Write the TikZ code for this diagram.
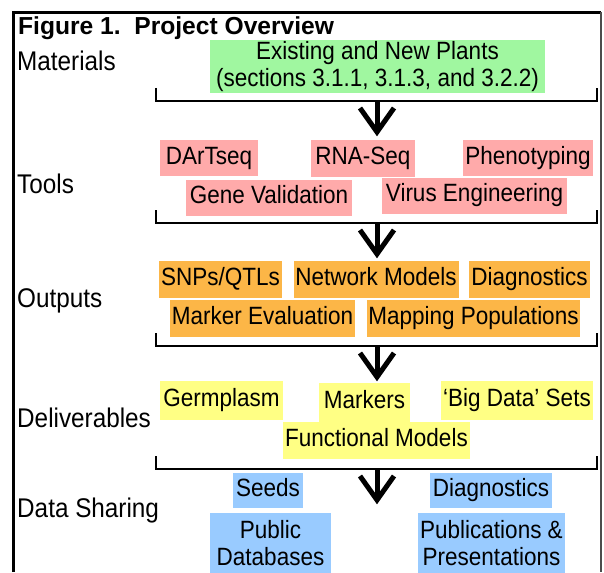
\documentclass[tikz,border=0pt]{standalone}
\usepackage{fontspec}
\setmainfont{Liberation Sans}
\newfontfamily\condfont[FakeStretch=0.9]{Liberation Sans}
\definecolor{gboxc}{HTML}{A0F7A0}
\definecolor{pboxc}{HTML}{FFAAAA}
\definecolor{oboxc}{HTML}{FCB647}
\definecolor{yboxc}{HTML}{FFFF84}
\definecolor{bboxc}{HTML}{99CBFF}
\newcommand\boxfont{\condfont\fontsize{25}{27}\selectfont}
\newcommand\labfont{\condfont\fontsize{27}{30}\selectfont}
\newcommand\titlefont{\fontsize{24.6}{28}\selectfont\bfseries}
\begin{document}
\begin{tikzpicture}[x=1pt,y=-1pt,
  bx/.style={inner sep=0pt, font=\boxfont, text height=18pt, text depth=5.2pt},
  two/.style={inner sep=0pt, font=\boxfont, align=center},
  lab/.style={anchor=base west, inner sep=0pt, font=\labfont},
  brk/.style={line width=2.4pt, line join=miter},
  arr/.style={line width=5pt, line join=miter},
]
\useasboundingbox (0,0) rectangle (604,572);
% frame
\draw[line width=3pt] (13.5,572) -- (13.5,12.5) -- (601,12.5);
\draw[line width=1.2pt, black!70] (601,12.5) -- (601,572);
% title
\node[anchor=base west, inner sep=0pt, font=\titlefont] (title) at (18,35) {Figure 1.\ \ Project Overview};
% labels
\node[lab] (lmat) at (17,71) {Materials};
\node[lab] (ltool) at (17,193) {Tools};
\node[lab] (lout) at (17,307) {Outputs};
\node[lab] (ldel) at (17,427) {Deliverables};
\node[lab] (lshare) at (17,517) {Data Sharing};
% materials
\node[two, fill=gboxc, minimum width=335pt, minimum height=53pt] (plants) at (377.5,66.5) {Existing and New Plants\\(sections 3.1.1, 3.1.3, and 3.2.2)};
% tools
\node[bx, fill=pboxc, minimum width=98pt, minimum height=36pt] (dart) at (209,158) {DArTseq};
\node[bx, fill=pboxc, minimum width=104pt, minimum height=37pt] (rna) at (363,158.5) {RNA-Seq};
\node[bx, fill=pboxc, minimum width=130pt, minimum height=36pt] (pheno) at (528,158) {Phenotyping};
\node[bx, fill=pboxc, minimum width=166pt, minimum height=36pt] (gene) at (269,197.5) {Gene Validation};
\node[bx, fill=pboxc, minimum width=185pt, minimum height=36pt] (virus) at (474.5,195.5) {Virus Engineering};
% outputs
\node[bx, fill=oboxc, minimum width=123pt, minimum height=37pt] (snp) at (220.5,279.5) {SNPs/QTLs};
\node[bx, fill=oboxc, minimum width=165pt, minimum height=37pt] (net) at (376,279.5) {Network Models};
\node[bx, fill=oboxc, minimum width=121pt, minimum height=37pt] (diag) at (529.5,279.5) {Diagnostics};
\node[bx, fill=oboxc, minimum width=185pt, minimum height=37pt] (marker) at (262.5,318.5) {Marker Evaluation};
\node[bx, fill=oboxc, minimum width=213pt, minimum height=37pt] (mapping) at (473.5,318.5) {Mapping Populations};
% deliverables
\node[bx, fill=yboxc, minimum width=123pt, minimum height=39pt] (germ) at (221.5,400.5) {Germplasm};
\node[bx, fill=yboxc, minimum width=91pt, minimum height=39pt] (mark) at (364.5,402.5) {Markers};
\node[bx, fill=yboxc, minimum width=152pt, minimum height=39pt] (big) at (517,400.5) {‘Big Data’ Sets};
\node[bx, fill=yboxc, minimum width=187pt, minimum height=37pt] (func) at (376.5,440.5) {Functional Models};
% data sharing
\node[bx, fill=bboxc, minimum width=70pt, minimum height=35pt] (seeds) at (268,490) {Seeds};
\node[bx, fill=bboxc, minimum width=122pt, minimum height=35pt] (diag2) at (491,490) {Diagnostics};
\node[two, fill=bboxc, minimum width=121pt, minimum height=60pt] (pubdb) at (270.5,543) {Public\\Databases};
\node[two, fill=bboxc, minimum width=147pt, minimum height=60pt] (pubs) at (491.5,543) {Publications \&\\Presentations};
% brackets and arrows
\foreach \n/\b in {1/101, 2/223, 3/346, 4/469}{
  \coordinate (bl\n) at (156,\b-13);
  \coordinate (br\n) at (597,\b-13);
  \coordinate (bm\n) at (377,\b);
  \coordinate (tip\n) at (377,\b+31);
  \draw[brk] (bl\n) |- (br\n |- bm\n) -- (br\n);
  \draw[arr] (bm\n) -- (tip\n);
  \draw[arr] ([xshift=-17pt,yshift=24pt]tip\n) -- (tip\n) -- ([xshift=17pt,yshift=24pt]tip\n);
}
\end{tikzpicture}
\end{document}
